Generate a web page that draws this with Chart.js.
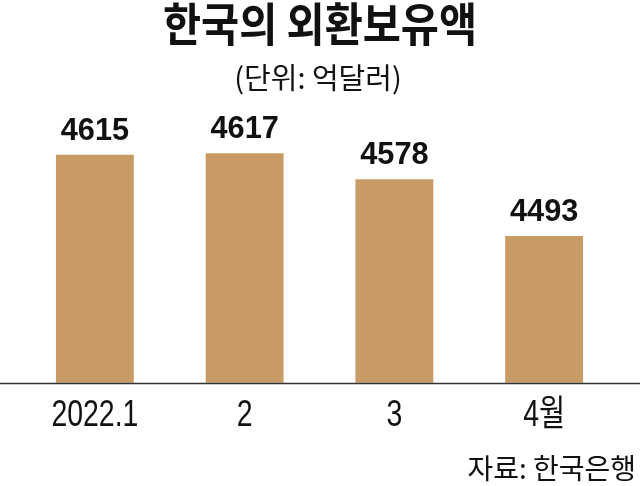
<!DOCTYPE html>
<html>
<head>
<meta charset="utf-8">
<script src="https://cdn.jsdelivr.net/npm/chart.js@4/dist/chart.umd.min.js"></script>
<style>
  html, body { margin: 0; padding: 0; background: #fff; }
  #wrap { width: 640px; height: 486px; position: relative; }
</style>
</head>
<body>
<div id="wrap"><canvas id="chartReserve" width="640" height="486"></canvas></div>
<script>
const months = ["2022.1", "2", "3", "4월"];
const reserves = [4615, 4617, 4578, 4493];

const titleText = "한국의 외환보유액";
const unitText = "(단위: 억달러)";
const sourceText = "자료: 한국은행";

const barColor = "#C89B66";
const cjk = '"Noto Sans CJK KR", "Noto Sans", sans-serif';
const latin = '"Liberation Sans", Arial, ';

// 가로로 좁힌 글자
function narrowText(ctx, text, x, y, sx) {
  ctx.save();
  ctx.translate(x, y);
  ctx.scale(sx, 1);
  ctx.fillText(text, 0, 0);
  ctx.restore();
}

// 제목, 값 라벨, x 라벨, 바닥선
const decorPlugin = {
  id: "decor",
  afterDraw(chart) {
    const ctx = chart.ctx;
    const w = chart.width;
    const xScale = chart.scales.x;
    ctx.save();
    ctx.fillStyle = "#111";
    ctx.textBaseline = "alphabetic";

    ctx.font = "bold 46px " + cjk;
    ctx.textAlign = "center";
    narrowText(ctx, titleText, 320, 41, 0.9);

    ctx.font = "29px " + cjk;
    ctx.fillText(unitText, 318, 89);

    ctx.font = "28px " + cjk;
    ctx.textAlign = "right";
    ctx.fillText(sourceText, 636, 479);

    // 막대 위 값
    const meta = chart.getDatasetMeta(0);
    ctx.font = "bold 32px " + latin + "sans-serif";
    ctx.textAlign = "center";
    meta.data.forEach((bar, i) => {
      narrowText(ctx, String(reserves[i]), bar.x, bar.y - 15, 0.96);
    });

    // x 라벨
    ctx.font = "36px " + latin + cjk;
    xScale.ticks.forEach((t, i) => {
      narrowText(ctx, months[i], xScale.getPixelForTick(i), 426, 0.79);
    });

    // x축 선 (전체 폭)
    const y = Math.round(xScale.top) + 0.5;
    ctx.strokeStyle = "#333";
    ctx.lineWidth = 1.5;
    ctx.beginPath();
    ctx.moveTo(0, y);
    ctx.lineTo(w, y);
    ctx.stroke();
    ctx.restore();
  },
};

const ctx = document.getElementById("chartReserve").getContext("2d");
const myChart = new Chart(ctx, {
  type: "bar",
  data: {
    labels: months,
    datasets: [
      {
        data: reserves,
        backgroundColor: barColor,
        borderWidth: 0,
        barPercentage: 0.52,
        categoryPercentage: 1,
      },
    ],
  },
  options: {
    responsive: false,
    animation: false,
    layout: {
      padding: { left: 20, right: 21, top: 98, bottom: 44 },
    },
    plugins: {
      legend: { display: false },
      tooltip: { enabled: false },
    },
    scales: {
      x: {
        grid: { display: false, drawTicks: false },
        border: { display: false },
        ticks: {
          color: "rgba(0,0,0,0)",
          padding: 8,
          maxRotation: 0,
          autoSkip: false,
          font: { family: latin + cjk, size: 36 },
        },
      },
      y: {
        display: false,
        min: 4273,
        max: 4700,
      },
    },
  },
  plugins: [decorPlugin],
});
</script>
</body>
</html>
